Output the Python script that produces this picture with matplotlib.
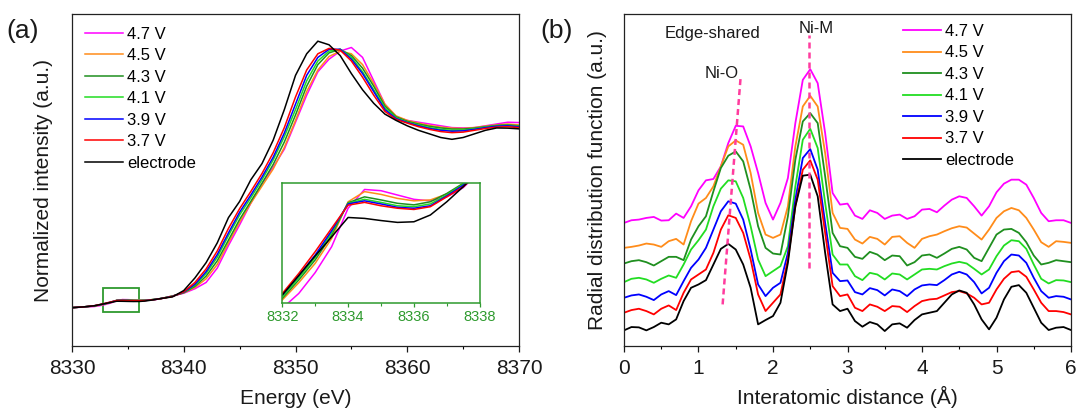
import numpy as np
import matplotlib.pyplot as plt
from matplotlib.patches import Rectangle
from matplotlib.ticker import MultipleLocator

plt.rcParams['font.family'] = ['Liberation Sans', 'DejaVu Sans']

labels = ['4.7 V', '4.5 V', '4.3 V', '4.1 V', '3.9 V', '3.7 V', 'electrode']
colors = ['#ff00ff', '#ff8c1a', '#1f8f1f', '#22dd22', '#0000ff', '#ff0000', '#000000']

# Ni K-edge XANES (normalized); finer steps across the pre-edge
energy = [8330, 8331, 8332, 8332.5, 8333, 8333.5, 8334, 8334.5, 8335, 8335.5,
          8336, 8336.5, 8337, 8337.5, 8338, 8339, 8340, 8341, 8342, 8343,
          8344, 8345, 8346, 8347, 8348, 8349, 8350, 8351, 8352, 8353, 8354,
          8355, 8356, 8357, 8358, 8359, 8360, 8361, 8362, 8363, 8364, 8365,
          8366, 8367, 8368, 8369, 8370]

xanes_47 = [0.0, 0.003,
            0.0062, 0.011, 0.0178, 0.0262, 0.0387, 0.0448, 0.0444, 0.043, 0.0416, 0.0411, 0.0424, 0.0454, 0.0506,
            0.065, 0.08, 0.105, 0.14, 0.22, 0.345, 0.46, 0.58, 0.69, 0.78,
            0.88, 1.03, 1.18, 1.31, 1.38, 1.425, 1.445, 1.39, 1.26, 1.13,
            1.06, 1.04, 1.03, 1.02, 1.01, 1.0, 0.998, 1.0, 1.01, 1.02, 1.03, 1.028]
xanes_45 = [0.0, 0.004,
            0.0089, 0.0145, 0.0208, 0.0289, 0.0408, 0.0441, 0.0432, 0.0419, 0.0411, 0.0414, 0.0433, 0.0466, 0.0511,
            0.065, 0.082, 0.112, 0.16, 0.24, 0.36, 0.475, 0.58, 0.675, 0.77,
            0.89, 1.04, 1.2, 1.32, 1.395, 1.425, 1.41, 1.35, 1.245, 1.13,
            1.065, 1.04, 1.025, 1.012, 1.003, 0.997, 0.995, 1.0, 1.008, 1.015, 1.02, 1.015]
xanes_43 = [0.0, 0.004,
            0.0094, 0.0154, 0.0219, 0.03, 0.0405, 0.0424, 0.0414, 0.0403, 0.0398, 0.0408, 0.0435, 0.0468, 0.0513,
            0.064, 0.083, 0.118, 0.175, 0.26, 0.375, 0.49, 0.59, 0.69, 0.795,
            0.92, 1.07, 1.23, 1.35, 1.415, 1.435, 1.4, 1.33, 1.23, 1.12,
            1.06, 1.035, 1.02, 1.007, 0.998, 0.992, 0.992, 0.997, 1.005, 1.012, 1.015, 1.01]
xanes_41 = [0.0, 0.004,
            0.0099, 0.0161, 0.0227, 0.0308, 0.0403, 0.0416, 0.0406, 0.0395, 0.0392, 0.0401, 0.043, 0.0465, 0.0511,
            0.064, 0.085, 0.125, 0.19, 0.28, 0.4, 0.515, 0.61, 0.71, 0.82,
            0.95, 1.1, 1.26, 1.37, 1.425, 1.435, 1.39, 1.31, 1.21, 1.11,
            1.055, 1.03, 1.015, 1.0, 0.99, 0.985, 0.986, 0.993, 1.003, 1.01, 1.012, 1.008]
xanes_39 = [0.0, 0.004,
            0.0105, 0.0168, 0.0235, 0.0314, 0.0401, 0.0411, 0.0401, 0.039, 0.0387, 0.0395, 0.0427, 0.0462, 0.0509,
            0.063, 0.086, 0.13, 0.2, 0.295, 0.415, 0.53, 0.625, 0.725, 0.835,
            0.97, 1.13, 1.29, 1.39, 1.435, 1.435, 1.38, 1.3, 1.2, 1.1,
            1.05, 1.028, 1.01, 0.995, 0.985, 0.98, 0.982, 0.99, 1.0, 1.008, 1.01, 1.005]
xanes_37 = [0.0, 0.004,
            0.011, 0.0175, 0.0246, 0.0322, 0.0397, 0.0406, 0.0395, 0.0387, 0.0383, 0.0392, 0.0424, 0.0457, 0.0506,
            0.062, 0.088, 0.14, 0.215, 0.315, 0.44, 0.55, 0.645, 0.745, 0.86,
            1.0, 1.17, 1.32, 1.41, 1.44, 1.43, 1.37, 1.28, 1.18, 1.09,
            1.045, 1.025, 1.005, 0.99, 0.978, 0.972, 0.975, 0.985, 0.995, 1.003, 1.005, 1.0]
xanes_el = [0.0, 0.004,
            0.0105, 0.0168, 0.0232, 0.0294, 0.0357, 0.0354, 0.0347, 0.0341, 0.0343, 0.0365, 0.0408, 0.0457, 0.051,
            0.06, 0.095, 0.165, 0.25, 0.36, 0.5, 0.59, 0.71, 0.8, 0.93,
            1.1, 1.29, 1.41, 1.48, 1.46, 1.4, 1.3, 1.21, 1.135, 1.075,
            1.04, 1.01, 0.985, 0.965, 0.945, 0.935, 0.945, 0.965, 0.985, 0.998, 0.997, 0.993]

# Fourier-transformed EXAFS, curves stacked with offsets (a.u.)
distance = np.linspace(0, 6, 61)

rdf_47 = [3.70, 3.78, 3.80, 3.85, 3.88, 3.77, 3.78, 3.98, 3.85, 4.20,
          4.68, 4.98, 5.02, 5.40, 6.10, 6.62, 6.60, 6.00, 5.20, 4.30,
          3.80, 4.30, 5.05, 6.70, 8.00, 8.32, 7.90, 6.40, 4.60, 4.25,
          4.28, 3.92, 3.82, 4.08, 4.00, 3.82, 3.92, 3.95, 3.82, 3.90,
          4.10, 4.12, 4.02, 4.22, 4.40, 4.50, 4.45, 4.20, 3.92, 4.20,
          4.62, 4.88, 5.00, 5.00, 4.85, 4.45, 4.00, 3.75, 3.78, 3.78, 3.70]
rdf_45 = [2.95, 2.98, 3.02, 3.08, 3.05, 2.98, 3.15, 3.22, 3.05, 3.75,
          4.28, 4.45, 4.80, 5.40, 6.00, 6.18, 6.05, 5.20, 4.00, 3.35,
          3.25, 3.35, 4.20, 6.00, 7.20, 7.52, 7.20, 5.80, 4.00, 3.55,
          3.52, 3.20, 3.08, 3.28, 3.22, 3.05, 3.28, 3.30, 3.10, 2.95,
          3.22, 3.30, 3.35, 3.45, 3.54, 3.60, 3.56, 3.38, 3.20, 3.50,
          3.85, 4.05, 4.15, 4.08, 3.85, 3.50, 3.12, 2.98, 3.15, 3.13, 3.10]
rdf_43 = [2.48, 2.55, 2.58, 2.52, 2.42, 2.55, 2.68, 2.68, 2.58, 3.20,
          3.60, 3.90, 4.65, 5.35, 5.72, 5.85, 5.55, 4.70, 3.60, 2.95,
          2.78, 2.75, 3.90, 5.60, 6.75, 7.00, 6.70, 5.10, 3.40, 3.00,
          2.95, 2.68, 2.62, 2.83, 2.75, 2.58, 2.72, 2.70, 2.42, 2.52,
          2.72, 2.75, 2.65, 2.78, 2.92, 2.98, 2.90, 2.65, 2.55, 2.95,
          3.35, 3.50, 3.52, 3.40, 3.12, 2.72, 2.45, 2.50, 2.58, 2.55, 2.52]
rdf_41 = [1.92, 2.02, 2.05, 2.00, 1.90, 2.02, 2.12, 2.05, 2.45, 2.90,
          3.18, 3.50, 4.20, 4.73, 4.98, 4.95, 4.45, 3.60, 2.60, 2.10,
          2.25, 2.40, 3.00, 4.80, 6.20, 6.53, 5.95, 4.30, 2.75, 2.45,
          2.45, 2.10, 1.98, 2.20, 2.15, 2.00, 2.18, 2.15, 2.00, 2.15,
          2.30, 2.32, 2.30, 2.40, 2.48, 2.53, 2.48, 2.32, 2.15, 2.30,
          2.70, 3.02, 3.18, 3.15, 2.92, 2.45, 2.02, 1.88, 1.98, 1.97, 1.92]
rdf_39 = [1.45, 1.52, 1.55, 1.48, 1.38, 1.55, 1.65, 1.53, 1.95, 2.35,
          2.60, 2.95, 3.50, 4.05, 4.35, 4.28, 3.80, 2.90, 1.85, 1.50,
          1.75, 1.90, 2.80, 4.40, 5.65, 5.92, 5.30, 3.70, 2.20, 1.95,
          1.97, 1.62, 1.55, 1.74, 1.68, 1.52, 1.70, 1.65, 1.50, 1.70,
          1.82, 1.85, 1.83, 1.98, 2.15, 2.23, 2.15, 1.92, 1.58, 1.75,
          2.20, 2.55, 2.75, 2.72, 2.50, 2.05, 1.65, 1.45, 1.50, 1.48, 1.40]
rdf_37 = [1.00, 1.08, 1.12, 1.05, 0.95, 1.12, 1.22, 1.08, 1.60, 2.00,
          2.15, 2.30, 2.80, 3.50, 3.93, 3.85, 3.40, 2.60, 1.55, 1.05,
          1.30, 1.55, 2.60, 4.20, 5.30, 5.58, 5.00, 3.40, 1.80, 1.50,
          1.55, 1.15, 1.05, 1.25, 1.18, 1.05, 1.20, 1.18, 1.02, 1.20,
          1.35, 1.40, 1.42, 1.52, 1.62, 1.65, 1.58, 1.45, 1.25, 1.30,
          1.70, 2.02, 2.22, 2.25, 2.08, 1.70, 1.30, 1.05, 1.05, 1.02, 0.95]
rdf_el = [0.47, 0.57, 0.56, 0.47, 0.57, 0.70, 0.65, 0.80, 1.35, 1.75,
          1.85, 1.98, 2.45, 2.92, 3.07, 2.90, 2.45, 1.75, 0.65, 0.78,
          0.90, 1.30, 2.50, 4.20, 5.12, 5.15, 4.50, 2.80, 1.25, 1.05,
          1.12, 0.75, 0.58, 0.72, 0.65, 0.45, 0.65, 0.68, 0.55, 0.78,
          0.95, 1.00, 1.05, 1.30, 1.55, 1.67, 1.60, 1.25, 0.80, 0.50,
          0.85, 1.40, 1.78, 1.83, 1.60, 1.15, 0.70, 0.48, 0.55, 0.57, 0.48]

xanes = [xanes_47, xanes_45, xanes_43, xanes_41, xanes_39, xanes_37, xanes_el]
rdf = [rdf_47, rdf_45, rdf_43, rdf_41, rdf_39, rdf_37, rdf_el]

inset_green = '#2e9a2e'
guide_pink = '#ff3c9e'
text_col = '#1a1a1a'

fig = plt.figure(figsize=(10.8, 4.09), dpi=100)
ax1 = fig.add_axes([72 / 1080, 63 / 409, 447 / 1080, 332 / 409])
ax2 = fig.add_axes([624 / 1080, 63 / 409, 447 / 1080, 332 / 409])


def style_axes(ax):
    for sp in ax.spines.values():
        sp.set_linewidth(0.9)
        sp.set_color('#222222')
    ax.set_yticks([])
    ax.tick_params(axis='x', which='major', direction='out', length=4, width=0.9,
                   labelsize=15, pad=5, colors=text_col)
    ax.tick_params(axis='x', which='minor', direction='out', length=2.5, width=0.8)


leg_kw = dict(loc='upper left', frameon=False, fontsize=12, handlelength=2.3,
              handletextpad=0.25, labelspacing=0.39, borderpad=0, borderaxespad=0)

# (a) XANES
for y, c, lab in zip(xanes, colors, labels):
    ax1.plot(energy, y, color=c, lw=1.1, label=lab)
ax1.set_xlim(8330, 8370)
ax1.set_ylim(-0.213, 1.631)
ax1.xaxis.set_major_locator(MultipleLocator(10))
ax1.xaxis.set_minor_locator(MultipleLocator(5))
style_axes(ax1)
ax1.set_xlabel('Energy (eV)', fontsize=15, labelpad=8, color=text_col)
ax1.set_ylabel('Normalized intensity (a.u.)', fontsize=15, labelpad=14, color=text_col)
ax1.add_patch(Rectangle((8332.8, -0.022), 3.16, 0.133, fill=False,
                        edgecolor=inset_green, lw=1.3))
ax1.legend(bbox_to_anchor=(0.029, 0.962), **leg_kw)

# pre-edge inset
ax_in = fig.add_axes([282.3 / 1080, 106.3 / 409, 197.4 / 1080, 120 / 409])
for y, c in zip(xanes, colors):
    ax_in.plot(energy, y, color=c, lw=1.1)
ax_in.set_xlim(8332, 8338)
ax_in.set_ylim(0.008, 0.047)
ax_in.set_xticks([8332, 8334, 8336, 8338])
ax_in.xaxis.set_minor_locator(MultipleLocator(1))
ax_in.set_yticks([])
for sp in ax_in.spines.values():
    sp.set_color(inset_green)
    sp.set_linewidth(1.1)
ax_in.tick_params(axis='x', which='major', direction='out', length=3, width=0.9,
                  colors=inset_green, labelsize=10.5, pad=2)
ax_in.tick_params(axis='x', which='minor', direction='out', length=2, width=0.8,
                  colors=inset_green)
ax_in.patch.set_alpha(0)

# (b) radial distribution
for y, c, lab in zip(rdf, colors, labels):
    ax2.plot(distance, y, color=c, lw=1.3, label=lab)
ax2.plot([1.324, 1.566], [1.25, 8.10], color=guide_pink, lw=1.8, dashes=(2.4, 1.6))
ax2.plot([2.483, 2.483], [2.35, 9.35], color=guide_pink, lw=1.8, dashes=(2.4, 1.6))
ax2.text(1.19, 9.4, 'Edge-shared', ha='center', va='center', fontsize=12, color=text_col)
ax2.text(1.31, 8.2, 'Ni-O', ha='center', va='center', fontsize=12, color=text_col)
ax2.text(2.58, 9.55, 'Ni-M', ha='center', va='center', fontsize=12, color=text_col)
ax2.set_xlim(0, 6)
ax2.set_ylim(0, 9.98)
ax2.xaxis.set_major_locator(MultipleLocator(1))
ax2.xaxis.set_minor_locator(MultipleLocator(0.5))
style_axes(ax2)
ax2.set_xlabel('Interatomic distance (Å)', fontsize=15, labelpad=6, color=text_col)
ax2.set_ylabel('Radial distribution function (a.u.)', fontsize=15, labelpad=12, color=text_col)
ax2.legend(bbox_to_anchor=(0.6235, 0.970), **leg_kw)

fig.text(0.006, 0.924, '(a)', fontsize=19, va='center', color=text_col)
fig.text(0.500, 0.924, '(b)', fontsize=19, va='center', color=text_col)

fig.savefig('out.png', dpi=100)
